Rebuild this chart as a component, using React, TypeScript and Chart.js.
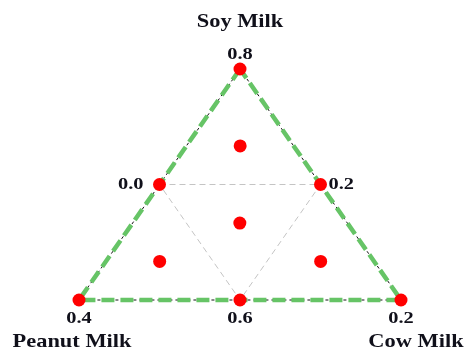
import React, { useEffect, useRef } from "react";
import { Chart, registerables } from "chart.js";

Chart.register(...registerables);

// Component names (top, bottom-left, bottom-right)
const components = ["Soy Milk", "Peanut Milk", "Cow Milk"];

// Design points as mixture fractions (Soy, Peanut, Cow)
const soyFrac = [1, 0, 0, 0.5, 0.5, 0, 0.667, 0.167, 0.167, 0.333];
const peanutFrac = [0, 1, 0, 0.5, 0, 0.5, 0.167, 0.667, 0.167, 0.333];
const cowFrac = [0, 0, 1, 0, 0.5, 0.5, 0.167, 0.167, 0.667, 0.333];

// Tick labels shown next to the vertices / edge midpoints
const tickLabels = ["0.8", "0.4", "0.2", "0.0", "0.2", "0.6", "", "", "", ""];

// Triangle outline (vertex indices) and inner sub-triangle (midpoint indices)
const outlineIdx = [0, 1, 2, 0];
const innerIdx = [3, 4, 5, 3];

const toXY = (i: number) => ({ x: cowFrac[i] + soyFrac[i] / 2, y: soyFrac[i] });

export default function App() {
  const ref = useRef<HTMLCanvasElement | null>(null);

  useEffect(() => {
    if (!ref.current) return;
    const labelPlugin = {
      id: "ternaryLabels",
      afterDraw(chart: any) {
        const ctx = chart.ctx;
        const xs = chart.scales.x;
        const ys = chart.scales.y;
        const drawText = (t: string, px: number, py: number, size: number, sx: number, align: string) => {
          ctx.save();
          ctx.font = `bold ${size}px "Liberation Serif", "DejaVu Serif", serif`;
          ctx.fillStyle = "#10101a";
          ctx.textBaseline = "middle";
          ctx.translate(px, py);
          ctx.scale(sx, 1);
          const w = ctx.measureText(t).width;
          let off = -w / 2;
          if (align === "right") off = -w;
          if (align === "left") off = 0;
          ctx.fillText(t, off, 0);
          ctx.restore();
        };
        const P = (i: number) => {
          const p = toXY(i);
          return { px: xs.getPixelForValue(p.x), py: ys.getPixelForValue(p.y) };
        };
        // tick labels
        const offsets: any[] = [
          { dx: 0, dy: -14, align: "center" },
          { dx: 0, dy: 19, align: "center" },
          { dx: 0, dy: 19, align: "center" },
          { dx: -16, dy: 0, align: "right" },
          { dx: 8, dy: 0, align: "left" },
          { dx: 0, dy: 19, align: "center" },
        ];
        offsets.forEach((o, i) => {
          const p = P(i);
          if (tickLabels[i]) drawText(tickLabels[i], p.px + o.dx, p.py + o.dy, 17, 1.2, o.align);
        });
        // component names
        const t = P(0), l = P(1), r = P(2);
        drawText(components[0], t.px, t.py - 47, 19, 1.18, "center");
        drawText(components[1], l.px - 7, l.py + 42, 19, 1.18, "center");
        drawText(components[2], r.px + 15, r.py + 42, 19, 1.18, "center");
      },
    };

    const outline = outlineIdx.map(toXY);
    const inner = innerIdx.map(toXY);
    const pts = soyFrac.map((_, i) => toXY(i));

    const chart = new Chart(ref.current, {
      type: "scatter",
      data: {
        datasets: [
          {
            label: "points",
            data: pts,
            showLine: false,
            pointRadius: 6.5,
            pointBackgroundColor: "#ff0000",
            pointBorderWidth: 0,
            borderColor: "#ff0000",
            order: 0,
            clip: false,
          } as any,
          {
            label: "green",
            data: outline,
            showLine: true,
            borderColor: "#66c466",
            borderWidth: 4.5,
            borderDash: [13, 6],
            pointRadius: 0,
            order: 1,
            clip: false,
          },
          {
            label: "black",
            data: outline,
            showLine: true,
            borderColor: "#111111",
            borderWidth: 1,
            borderDash: [3, 3],
            pointRadius: 0,
            order: 2,
            clip: false,
          },
          {
            label: "inner",
            data: inner,
            showLine: true,
            borderColor: "#c4c4c4",
            borderWidth: 1,
            borderDash: [6, 4],
            pointRadius: 0,
            order: 3,
            clip: false,
          },
        ],
      },
      options: {
        animation: false,
        responsive: false,
        layout: { padding: { left: 79, right: 64, top: 69, bottom: 52 } },
        scales: {
          x: { type: "linear", min: 0, max: 1, display: false },
          y: { type: "linear", min: 0, max: 1, display: false },
        },
        plugins: { legend: { display: false }, tooltip: { enabled: false } },
      },
      plugins: [labelPlugin],
    });
    return () => chart.destroy();
  }, []);

  return (
    <div style={{ position: "absolute", left: 0, top: 0, width: 465, height: 352, background: "#fff" }}>
      <canvas ref={ref} width={465} height={352} style={{ width: 465, height: 352 }} />
    </div>
  );
}
